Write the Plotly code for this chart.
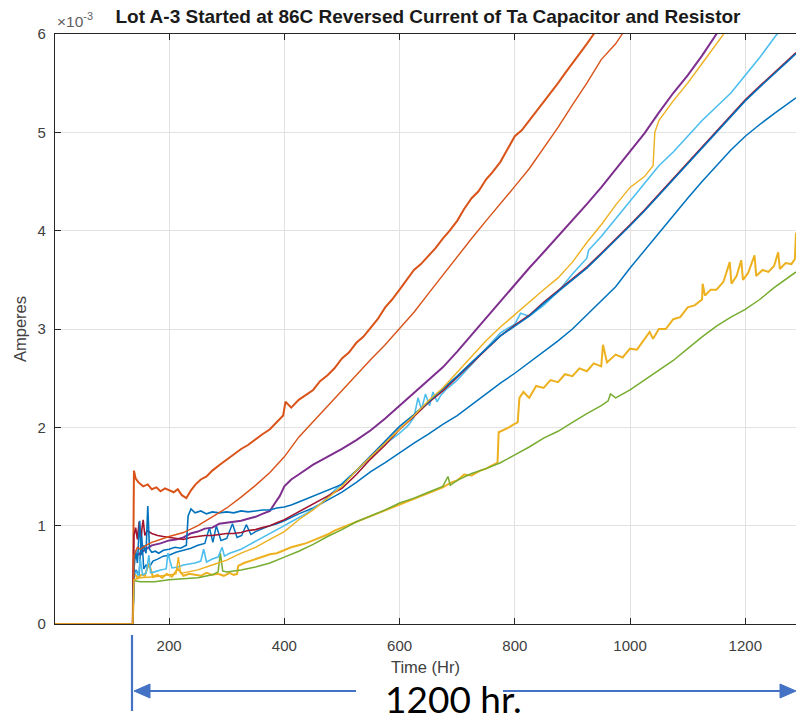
import plotly.graph_objects as go

# Reverse leakage current, values in units of 1e-3 A, versus elapsed hours.
blue1_hr = [0, 137, 139, 143, 148, 152, 156, 160, 166, 172, 180, 190, 200, 212, 225, 238, 250, 262, 270, 276,
            282, 290, 300, 310, 318, 326, 334, 342, 350, 362, 375, 387, 400, 425, 450, 475, 500, 525, 550, 575,
            600, 625, 650, 675, 700, 725, 750, 775, 800, 825, 850, 875, 900, 925, 950, 975, 1000, 1025, 1050, 1075,
            1100, 1125, 1150, 1175, 1200, 1225, 1250, 1275, 1288]
blue1_ma = [0, 0, 0.50, 0.55, 0.48, 0.95, 0.56, 0.60, 0.58, 0.64, 0.66, 0.69, 0.70, 0.73, 0.75, 0.77, 0.80, 0.82, 0.98, 0.83,
            1.00, 0.85, 0.87, 1.02, 0.88, 0.90, 1.01, 0.91, 0.94, 0.97, 1.00, 1.02, 1.05, 1.12, 1.18, 1.26, 1.34, 1.44, 1.55, 1.64,
            1.74, 1.84, 1.93, 2.03, 2.12, 2.23, 2.34, 2.45, 2.55, 2.66, 2.77, 2.88, 3.00, 3.14, 3.28, 3.43, 3.62, 3.80, 3.98, 4.16,
            4.33, 4.50, 4.66, 4.82, 4.96, 5.08, 5.19, 5.29, 5.35]

orange1_hr = [0, 137, 139, 142, 147, 155, 163, 170, 178, 185, 193, 200, 208, 215, 222, 230, 238, 246, 255, 265,
              275, 288, 300, 312, 325, 337, 350, 362, 375, 387, 398, 402, 412, 425, 437, 450, 462, 475, 487, 500,
              512, 525, 537, 550, 562, 575, 587, 600, 612, 625, 637, 650, 662, 675, 687, 700, 712, 725, 737, 750,
              762, 775, 787, 800, 812, 825, 837, 850, 862, 875, 887, 900, 912, 925, 937, 950]
orange1_ma = [0, 0, 1.56, 1.48, 1.44, 1.40, 1.42, 1.37, 1.39, 1.35, 1.38, 1.36, 1.34, 1.37, 1.31, 1.28, 1.36, 1.42, 1.47, 1.50,
              1.56, 1.62, 1.67, 1.72, 1.78, 1.82, 1.88, 1.93, 1.98, 2.05, 2.12, 2.26, 2.20, 2.28, 2.33, 2.38, 2.47, 2.53, 2.60, 2.70,
              2.76, 2.86, 2.92, 3.02, 3.10, 3.22, 3.30, 3.40, 3.50, 3.60, 3.66, 3.74, 3.82, 3.92, 4.00, 4.10, 4.22, 4.33, 4.40, 4.52,
              4.60, 4.70, 4.82, 4.96, 5.02, 5.12, 5.20, 5.30, 5.40, 5.50, 5.60, 5.70, 5.80, 5.90, 6.00, 6.10]

yellow1_hr = [0, 137, 139, 145, 152, 158, 165, 172, 180, 188,
              196, 205, 215, 225, 235, 245, 255, 265, 275, 285,
              295, 305, 312, 318, 320, 330, 340, 350, 362, 375,
              387, 400, 412, 425, 437, 450, 462, 475, 487, 500,
              525, 550, 575, 600, 625, 650, 675, 690, 700, 712,
              725, 740, 750, 760, 770, 772, 780, 790, 798, 805,
              808, 815, 825, 837, 850, 862, 875, 887, 900, 912,
              925, 937, 950, 953, 960, 975, 987, 1000, 1012, 1025,
              1034, 1040, 1050, 1062, 1075, 1087, 1100, 1112, 1125, 1126,
              1130, 1140, 1150, 1162, 1173, 1176, 1185, 1193, 1196, 1205,
              1216, 1219, 1230, 1240, 1250, 1257, 1260, 1270, 1280, 1286,
              1288]
yellow1_ma = [0, 0, 0.52, 0.47, 0.50, 0.49, 0.62, 0.48, 0.50, 0.47,
              0.51, 0.48, 0.56, 0.49, 0.51, 0.50, 0.49, 0.52, 0.50, 0.51,
              0.49, 0.52, 0.50, 0.51, 0.59, 0.62, 0.64, 0.66, 0.68, 0.71,
              0.72, 0.75, 0.78, 0.80, 0.82, 0.85, 0.88, 0.91, 0.95, 0.98,
              1.04, 1.10, 1.16, 1.21, 1.27, 1.33, 1.39, 1.44, 1.46, 1.52,
              1.51, 1.56, 1.58, 1.61, 1.64, 1.95, 1.97, 2.00, 2.03, 2.05,
              2.30, 2.36, 2.30, 2.42, 2.40, 2.48, 2.46, 2.54, 2.52, 2.60,
              2.57, 2.65, 2.62, 2.84, 2.66, 2.74, 2.71, 2.80, 2.79, 2.90,
              2.97, 2.90, 3.00, 3.00, 3.10, 3.12, 3.22, 3.24, 3.30, 3.46,
              3.34, 3.40, 3.40, 3.48, 3.68, 3.46, 3.54, 3.70, 3.50, 3.57,
              3.75, 3.54, 3.60, 3.58, 3.64, 3.78, 3.61, 3.67, 3.66, 3.71,
              3.98]

purple_hr = [0, 137, 139, 145, 152, 160, 170, 185, 200, 212, 225, 237, 250, 262, 275, 287, 300, 312, 325, 337,
             350, 362, 375, 385, 392, 400, 412, 425, 437, 450, 462, 475, 487, 500, 525, 550, 575, 600, 625, 650,
             675, 700, 725, 750, 775, 800, 825, 850, 875, 900, 925, 950, 975, 1000, 1025, 1050, 1075, 1100, 1125, 1150,
             1175]
purple_ma = [0, 0, 0.66, 0.70, 0.73, 0.76, 0.80, 0.82, 0.85, 0.86, 0.88, 0.92, 0.94, 0.97, 0.98, 1.02, 1.03, 1.04, 1.05, 1.07,
             1.09, 1.12, 1.15, 1.24, 1.30, 1.40, 1.47, 1.52, 1.57, 1.62, 1.66, 1.70, 1.74, 1.78, 1.87, 1.97, 2.09, 2.22, 2.34, 2.47,
             2.61, 2.77, 2.94, 3.11, 3.28, 3.46, 3.62, 3.78, 3.94, 4.11, 4.27, 4.44, 4.62, 4.80, 4.99, 5.20, 5.40, 5.58, 5.78, 6.00,
             6.20]

green_hr = [0, 137, 139, 150, 175, 200, 225, 250, 275, 285, 289, 293, 300, 325, 350, 375, 400, 425, 450, 475,
            500, 525, 550, 575, 600, 625, 650, 675, 684, 688, 700, 725, 750, 775, 800, 825, 850, 875, 900, 925,
            950, 962, 966, 975, 1000, 1025, 1050, 1075, 1100, 1125, 1150, 1175, 1200, 1225, 1250, 1275, 1288]
green_ma = [0, 0, 0.44, 0.43, 0.43, 0.45, 0.46, 0.47, 0.50, 0.53, 0.72, 0.54, 0.53, 0.55, 0.58, 0.62, 0.68, 0.74, 0.81, 0.89,
            0.96, 1.04, 1.10, 1.16, 1.23, 1.28, 1.34, 1.40, 1.50, 1.41, 1.46, 1.53, 1.58, 1.64, 1.72, 1.80, 1.89, 1.96, 2.05, 2.14,
            2.22, 2.27, 2.34, 2.30, 2.38, 2.48, 2.58, 2.68, 2.80, 2.92, 3.03, 3.12, 3.20, 3.30, 3.42, 3.53, 3.58]

ltblue_hr = [0, 137, 139, 143, 147, 150, 154, 160, 165, 168, 175, 185, 195, 198, 205, 215, 225, 235, 245, 255,
             260, 265, 275, 285, 292, 296, 305, 315, 325, 337, 350, 362, 375, 387, 400, 412, 425, 437, 450, 462,
             475, 487, 500, 525, 550, 575, 600, 615, 625, 632, 638, 645, 652, 658, 665, 672, 680, 700, 725, 750,
             775, 800, 810, 825, 850, 875, 900, 925, 928, 950, 975, 1000, 1025, 1050, 1075, 1100, 1125, 1150, 1175, 1200,
             1225, 1250, 1275]
ltblue_ma = [0, 0, 0.50, 0.53, 0.49, 0.66, 0.50, 0.52, 0.70, 0.52, 0.53, 0.55, 0.56, 0.72, 0.57, 0.58, 0.60, 0.61, 0.62, 0.64,
             0.76, 0.63, 0.66, 0.68, 0.78, 0.69, 0.72, 0.74, 0.76, 0.80, 0.84, 0.88, 0.92, 0.96, 1.00, 1.04, 1.08, 1.12, 1.17, 1.22,
             1.29, 1.36, 1.43, 1.56, 1.70, 1.83, 1.94, 2.02, 2.10, 2.30, 2.18, 2.34, 2.22, 2.36, 2.26, 2.33, 2.38, 2.48, 2.64, 2.80,
             2.96, 3.05, 3.16, 3.13, 3.24, 3.38, 3.56, 3.72, 3.80, 3.94, 4.12, 4.30, 4.48, 4.66, 4.80, 4.96, 5.12, 5.26, 5.40, 5.58,
             5.76, 5.96, 6.15]

darkred_hr = [0, 137, 139, 142, 145, 148, 151, 155, 158, 162, 170, 180, 190, 200, 212, 225, 237, 250, 262, 275,
              287, 300, 312, 325, 337, 350, 362, 375, 387, 400, 412, 425, 437, 450, 462, 475, 487, 500, 525, 550,
              575, 600, 625, 650, 675, 700, 725, 750, 775, 800, 825, 850, 875, 900, 925, 950, 975, 1000, 1025, 1050,
              1075, 1100, 1125, 1150, 1175, 1200, 1225, 1250, 1275, 1288]
darkred_ma = [0, 0, 0.90, 0.98, 0.86, 1.04, 0.88, 1.06, 0.90, 0.95, 0.92, 0.90, 0.89, 0.88, 0.87, 0.86, 0.88, 0.89, 0.90, 0.90,
              0.91, 0.92, 0.92, 0.93, 0.95, 0.96, 0.98, 1.00, 1.03, 1.06, 1.10, 1.14, 1.18, 1.22, 1.26, 1.30, 1.34, 1.38, 1.52, 1.68,
              1.82, 1.98, 2.11, 2.25, 2.37, 2.51, 2.65, 2.79, 2.93, 3.04, 3.14, 3.27, 3.39, 3.51, 3.63, 3.77, 3.91, 4.06, 4.21, 4.37,
              4.53, 4.69, 4.85, 5.01, 5.17, 5.33, 5.47, 5.61, 5.74, 5.81]

blue2_hr = [0, 137, 139, 142, 145, 149, 152, 156, 160, 163, 166, 170, 176, 182, 190, 200, 210, 220, 230, 233,
            238, 245, 255, 265, 275, 287, 300, 312, 325, 337, 350, 362, 375, 387, 400, 412, 425, 437, 450, 462,
            475, 487, 500, 525, 550, 575, 600, 625, 650, 675, 700, 725, 750, 775, 800, 825, 850, 875, 900, 925,
            950, 975, 1000, 1025, 1050, 1075, 1100, 1125, 1150, 1175, 1200, 1225, 1250, 1275, 1288]
blue2_ma = [0, 0, 0.55, 0.75, 0.62, 1.05, 0.70, 0.80, 0.72, 1.20, 0.76, 0.73, 0.74, 0.72, 0.75, 0.76, 0.78, 0.77, 0.80, 1.10,
            1.17, 1.13, 1.15, 1.12, 1.14, 1.13, 1.14, 1.13, 1.15, 1.14, 1.15, 1.16, 1.16, 1.18, 1.19, 1.21, 1.24, 1.27, 1.30, 1.33,
            1.36, 1.39, 1.42, 1.56, 1.71, 1.86, 2.01, 2.13, 2.26, 2.38, 2.52, 2.66, 2.80, 2.93, 3.03, 3.13, 3.26, 3.38, 3.50, 3.62,
            3.76, 3.90, 4.05, 4.20, 4.36, 4.52, 4.68, 4.84, 5.00, 5.16, 5.32, 5.46, 5.60, 5.73, 5.80]

orange2_hr = [0, 137, 139, 145, 150, 160, 170, 185, 200, 225, 250, 275, 300, 325, 350, 375, 400, 425, 450, 475,
              500, 525, 550, 575, 600, 625, 650, 675, 700, 725, 750, 775, 800, 825, 850, 875, 900, 925, 950, 975,
              1000]
orange2_ma = [0, 0, 0.70, 0.78, 0.76, 0.80, 0.83, 0.86, 0.89, 0.93, 1.00, 1.09, 1.18, 1.29, 1.41, 1.54, 1.70, 1.90, 2.06, 2.22,
              2.38, 2.54, 2.69, 2.84, 3.00, 3.17, 3.36, 3.55, 3.73, 3.92, 4.10, 4.27, 4.45, 4.63, 4.84, 5.05, 5.28, 5.50, 5.74, 5.90,
              6.12]

yellow2_hr = [0, 137, 139, 150, 175, 200, 212, 216, 220, 225, 250, 275, 300, 325, 350, 375, 400, 425, 450, 475,
              500, 525, 550, 575, 600, 625, 650, 675, 700, 725, 750, 775, 800, 825, 850, 875, 900, 925, 950, 975,
              1000, 1025, 1040, 1043, 1050, 1075, 1100, 1125, 1150, 1175]
yellow2_ma = [0, 0, 0.45, 0.47, 0.48, 0.50, 0.51, 0.68, 0.52, 0.52, 0.55, 0.60, 0.65, 0.72, 0.78, 0.86, 0.94, 1.06, 1.16, 1.28,
              1.40, 1.56, 1.70, 1.84, 1.97, 2.12, 2.27, 2.40, 2.56, 2.72, 2.88, 3.02, 3.15, 3.28, 3.40, 3.52, 3.68, 3.88, 4.06, 4.26,
              4.44, 4.55, 4.66, 5.00, 5.12, 5.32, 5.50, 5.70, 5.90, 6.10]

x_ticks = [200, 400, 600, 800, 1000, 1200]
y_ticks = [0, 1, 2, 3, 4, 5, 6]

# MATLAB default colour order; the later traces repeat it
series = [
    (blue1_hr, blue1_ma, "#0072BD", 1.5),
    (orange1_hr, orange1_ma, "#D95319", 2.0),
    (yellow1_hr, yellow1_ma, "#EDB120", 2.0),
    (purple_hr, purple_ma, "#7E2F8E", 2.0),
    (green_hr, green_ma, "#77AC30", 1.5),
    (ltblue_hr, ltblue_ma, "#4DBEEE", 1.6),
    (darkred_hr, darkred_ma, "#A2142F", 1.6),
    (blue2_hr, blue2_ma, "#0072BD", 1.6),
    (orange2_hr, orange2_ma, "#D95319", 1.4),
    (yellow2_hr, yellow2_ma, "#EDB120", 1.4),
]

fig = go.Figure()
for hrs, vals, color, width in series:
    assert len(hrs) == len(vals)
    fig.add_trace(go.Scatter(x=hrs, y=vals, mode="lines",
                             line=dict(color=color, width=width),
                             hoverinfo="skip", showlegend=False))

# plot-area box in page pixels
W, H = 796, 721
PL, PR, PT, PB = 55, 796, 34, 624


def fx(px):
    return (px - PL) / (PR - PL)


def fy(py):
    return (PB - py) / (PB - PT)


AX = "#262626"
TXT = "#404040"
FONT = "Liberation Sans, Arial, sans-serif"
ARROW = "#4472C4"

fig.update_layout(
    template="none",
    width=W, height=H,
    margin=dict(l=PL, r=0, t=PT, b=H - PB, pad=0),
    paper_bgcolor="white", plot_bgcolor="white",
    font=dict(family=FONT, color=TXT, size=15),
    showlegend=False,
    title=dict(text="<b>Lot A-3 Started at 86C Reversed Current of Ta Capacitor and Resistor</b>",
               x=428 / W, y=1 - 16 / H, xanchor="center", yanchor="middle",
               xref="container", yref="container",
               font=dict(size=19, color="#1a1a1a", family=FONT)),
    xaxis=dict(range=[2, 1288], tickvals=x_ticks, ticks="inside", ticklen=6, tickwidth=1,
               tickcolor=AX, showline=True, linecolor=AX, linewidth=1.2, mirror="ticks",
               showgrid=True, gridcolor="#e2e2e2", gridwidth=1, zeroline=False,
               tickfont=dict(size=15, color=TXT), ticklabelstandoff=8,
               title=dict(text="Time (Hr)", font=dict(size=16.5, color=TXT), standoff=8)),
    yaxis=dict(range=[0, 6], tickvals=y_ticks, ticks="inside", ticklen=6, tickwidth=1,
               tickcolor=AX, showline=True, linecolor=AX, linewidth=1.2, mirror=False,
               showgrid=True, gridcolor="#e2e2e2", gridwidth=1, zeroline=False,
               tickfont=dict(size=15, color=TXT), ticklabelstandoff=5,
               title=dict(text="Amperes", font=dict(size=16.5, color=TXT), standoff=6)),
)

annotations = [
    dict(text="×10<sup>-3</sup>", x=fx(55), y=fy(20), xanchor="left", yanchor="middle",
         font=dict(size=15.5, color="#606060", family=FONT)),
    dict(text="1200 hr.", x=fx(453), y=fy(698), xanchor="center", yanchor="middle",
         font=dict(size=37, color="black", family="Lato, Carlito, sans-serif")),
]
for a in annotations:
    a["showarrow"] = False
    a["xref"] = "paper"
    a["yref"] = "paper"
fig.update_layout(annotations=annotations)

# span marker under the time axis: start bar, two shafts, two heads
ay = 691
marker_shapes = [
    dict(type="line", x0=fx(132), x1=fx(132), y0=fy(635), y1=fy(711)),
    dict(type="line", x0=fx(146), x1=fx(356), y0=fy(ay), y1=fy(ay)),
    dict(type="line", x0=fx(503), x1=fx(783), y0=fy(ay), y1=fy(ay)),
]
for s in marker_shapes:
    s.update(xref="paper", yref="paper", line=dict(color=ARROW, width=2.2))
    fig.add_shape(**s)

for tip, base in ((134, 150), (796, 780)):
    path = (f"M {fx(tip)},{fy(ay)} L {fx(base)},{fy(ay - 7)} "
            f"L {fx(base)},{fy(ay + 7)} Z")
    fig.add_shape(type="path", path=path, xref="paper", yref="paper",
                  fillcolor=ARROW, line=dict(color=ARROW, width=1))

fig.write_html("out.html", config={"displayModeBar": False})
